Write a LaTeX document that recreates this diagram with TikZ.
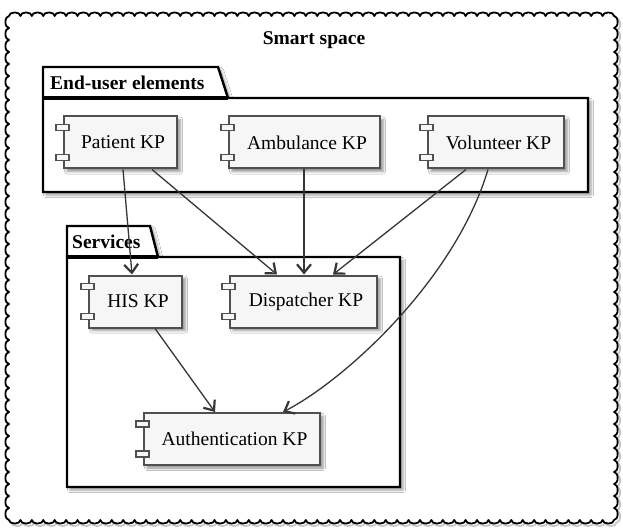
\documentclass[tikz,border=0pt]{standalone}
\usepackage{fontspec}
\setmainfont{Liberation Serif}
\usetikzlibrary{arrows.meta,shadows.blur,calc}

\definecolor{compfill}{HTML}{F6F6F6}
\definecolor{compline}{HTML}{505050}
\definecolor{arrowcol}{HTML}{363636}

% scalloped outline of the outer frame: 53 scallops across, 42 down
\newcommand{\scallopframe}{%
  (9,16)
  \foreach \i in {1,...,53} {arc[start angle=180, end angle=360, x radius=5.708, y radius=3.6]}
  \foreach \i in {1,...,42} {arc[start angle=270, end angle=450, x radius=3.6, y radius=6]}
  \foreach \i in {1,...,53} {arc[start angle=0, end angle=180, x radius=5.708, y radius=3.6]}
  \foreach \i in {1,...,42} {arc[start angle=90, end angle=270, x radius=3.6, y radius=6]}
  -- cycle}

\begin{document}
\begin{tikzpicture}[x=1pt,y=-1pt,
  comp/.style={draw=compline, fill=compfill, line width=2pt,
    blur shadow={shadow xshift=3pt, shadow yshift=-3pt, shadow blur radius=2.5pt, shadow opacity=45},
    font=\fontsize{19.5}{22}\selectfont, inner sep=0pt},
  port/.style={draw=compline, fill=compfill, line width=1.7pt},
  pkg/.style={draw=black, line width=2.4pt, fill=white, line join=miter,
    blur shadow={shadow xshift=3pt, shadow yshift=-3pt, shadow blur radius=2.5pt, shadow opacity=40}},
  tabline/.style={draw=black, line width=4pt},
  flow/.style={draw=arrowcol, line width=1.3pt,
    -{Straight Barb[length=8.5pt, width=14pt, line width=2.2pt]}},
  title/.style={font=\bfseries\fontsize{19.5}{22}\selectfont, inner sep=0pt},
  frameline/.style={line width=1.8pt, line join=round}
]
\useasboundingbox (0,0) rectangle (623,529);

% outer scalloped frame with a soft shadow
\draw[frameline, draw=black!40, opacity=0.55, shift={(2.5,2.5)}] \scallopframe;
\draw[frameline, fill=white] \scallopframe;
\node[title, anchor=base] (smart) at (314,45) {Smart space};

% package: end-user elements
\draw[pkg] (43,192) -- (43,67) -- (218,67) -- (228,98) -- (588,98) -- (588,192) -- cycle;
\draw[tabline] (43,98) -- (228,98);
\node[title, anchor=base west] (enduser) at (50,90) {End-user elements};

% package: services
\draw[pkg] (67,487) -- (67,226) -- (150,226) -- (158,257) -- (400,257) -- (400,487) -- cycle;
\draw[tabline] (67,257) -- (158,257);
\node[title, anchor=base west] (services) at (72,248) {Services};

% components
\node[comp, minimum width=113pt, minimum height=52pt] (pat) at (120.5,142.5) {\hspace*{5pt}Patient KP};
\node[comp, minimum width=151pt, minimum height=52pt] (amb) at (304.5,142.5) {\hspace*{5pt}Ambulance KP};
\node[comp, minimum width=136pt, minimum height=52pt] (vol) at (496,142.5) {\hspace*{5pt}Volunteer KP};
\node[comp, minimum width=93pt, minimum height=52pt] (his) at (135.5,301.5) {\hspace*{5pt}HIS KP};
\node[comp, minimum width=147pt, minimum height=52pt] (dis) at (303.5,301.5) {\hspace*{5pt}Dispatcher KP};
\node[comp, minimum width=176pt, minimum height=52pt] (aut) at (232,439) {\hspace*{5pt}Authentication KP};

% component ports
\foreach \n in {pat,amb,vol,his,dis,aut} {
  \draw[port] ($(\n.north west)+(-7,9)$) rectangle ++(13,6);
  \draw[port] ($(\n.south west)+(-7,-15)$) rectangle ++(13,6);
}

% dependencies
\draw[flow] ([xshift=2.5pt]pat.south) -- ([xshift=-3.5pt]his.north);
\draw[flow] ([xshift=31.5pt]pat.south) -- ([xshift=-26.5pt]dis.north);
\draw[flow] ([xshift=-0.5pt]amb.south) -- ([xshift=0.5pt]dis.north);
\draw[flow] ([xshift=-30pt]vol.south) -- ([xshift=29.5pt]dis.north);
\draw[flow] ([xshift=-8pt]vol.south) .. controls (455,280) and (345,380) .. ([xshift=51pt]aut.north);
\draw[flow] ([xshift=19.5pt]his.south) -- ([xshift=-17pt]aut.north);
\end{tikzpicture}
\end{document}
